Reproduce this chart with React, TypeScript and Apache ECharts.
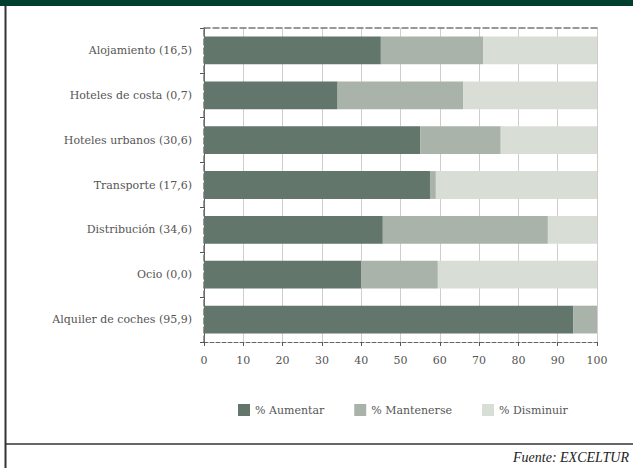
import React, { useEffect, useRef } from "react";
import * as echarts from "echarts";

const categories = [
  "Alojamiento (16,5)",
  "Hoteles de costa (0,7)",
  "Hoteles urbanos (30,6)",
  "Transporte (17,6)",
  "Distribución (34,6)",
  "Ocio (0,0)",
  "Alquiler de coches (95,9)",
];
const aumentar = [45, 34, 55, 57.5, 45.5, 40, 94];
const mantenerse = [26, 32, 20.5, 1.5, 42, 19.5, 6];
const disminuir = [29, 34, 24.5, 41, 12.5, 40.5, 0];
const seriesNames = ["% Aumentar", "% Mantenerse", "% Disminuir"];
const xTicks = [0, 10, 20, 30, 40, 50, 60, 70, 80, 90, 100];

const FONT = "DejaVu Serif";

export default function App() {
  const ref = useRef<HTMLDivElement>(null);
  useEffect(() => {
    if (!ref.current) return;
    const chart = echarts.init(ref.current, undefined, { renderer: "svg" });
    const cats = [...categories].reverse();
    const rev = (a: number[]) => [...a].reverse();
    const colors = ["#62766b", "#aab3aa", "#d8ded6"];
    const data = [aumentar, mantenerse, disminuir];
    chart.setOption({
      animation: false,
      backgroundColor: "#ffffff",
      grid: { left: 204, right: 36, top: 28, bottom: 126, containLabel: false },
      legend: {
        data: seriesNames,
        left: 233,
        top: 399,
        itemWidth: 12,
        itemHeight: 12,
        itemGap: 30,
        icon: "rect",
        textStyle: { fontFamily: FONT, fontSize: 11, color: "#555" },
      },
      xAxis: [
        {
          type: "value",
          min: 0,
          max: 100,
          interval: 10,
          position: "bottom",
          axisLine: { show: true, lineStyle: { color: "#666", type: "dashed", width: 1 } },
          axisTick: { show: true, length: 4, lineStyle: { color: "#555" } },
          axisLabel: {
            fontFamily: FONT,
            fontSize: 11,
            color: "#555",
            margin: 13,
            formatter: (v: number) => (xTicks.includes(v) ? String(v) : ""),
          },
          splitLine: { show: true, lineStyle: { color: "#d4cccc", width: 1 } },
        },
        {
          type: "value",
          min: 0,
          max: 100,
          interval: 10,
          position: "top",
          axisLine: { show: true, lineStyle: { color: "#777", type: "dashed", width: 1.5 } },
          axisTick: { show: false },
          axisLabel: { show: false },
          splitLine: { show: false },
        },
      ],
      yAxis: [
        {
          type: "category",
          data: cats,
          axisLine: { show: true, lineStyle: { color: "#555" } },
          axisTick: { show: true, length: 4, lineStyle: { color: "#555" } },
          axisLabel: { fontFamily: FONT, fontSize: 11, color: "#555", margin: 12 },
        },
        {
          type: "category",
          data: cats,
          position: "right",
          axisLine: { show: true, lineStyle: { color: "#777", type: "dashed", width: 1.5 } },
          axisTick: { show: false },
          axisLabel: { show: false },
        },
      ],
      series: data.map((d, i) => ({
        name: seriesNames[i],
        type: "bar",
        stack: "total",
        xAxisIndex: 0,
        yAxisIndex: 0,
        barCategoryGap: "38%",
        data: rev(d),
        itemStyle: { color: colors[i] },
      })),
      graphic: [
        { type: "rect", shape: { x: 0, y: 0, width: 633, height: 6 }, style: { fill: "#003f2e" } },
        { type: "line", shape: { x1: 5.5, y1: 6, x2: 5.5, y2: 468 }, style: { stroke: "#333", lineWidth: 2 } },
        { type: "line", shape: { x1: 5, y1: 444, x2: 633, y2: 444 }, style: { stroke: "#333", lineWidth: 1.5 } },
        {
          type: "text",
          right: 4,
          top: 450,
          style: {
            text: "Fuente: EXCELTUR",
            fontFamily: "Liberation Serif",
            fontStyle: "italic",
            fontSize: 14,
            fill: "#222",
          },
        },
      ],
    });
    return () => chart.dispose();
  }, []);
  return (
    <div
      ref={ref}
      style={{ position: "fixed", left: 0, top: 0, width: 633, height: 468 }}
    />
  );
}
